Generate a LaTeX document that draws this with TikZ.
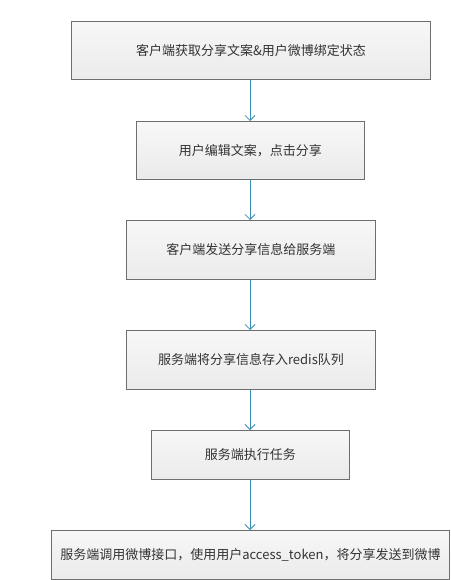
\documentclass[tikz,border=0pt]{standalone}
\usepackage{fontspec}
\setmainfont{Noto Sans CJK SC}
\usetikzlibrary{arrows.meta}
\definecolor{linkblue}{HTML}{3A8DB2}
\definecolor{boxborder}{HTML}{6E6E6E}
\begin{document}
\begin{tikzpicture}[x=1pt,y=-1pt,
  stepbox/.style={draw=boxborder, line width=0.9pt, top color=gray!6, bottom color=gray!16,
    anchor=north west, inner sep=0pt, font=\fontsize{13}{15}\selectfont, text=black!80},
  flow/.style={draw=linkblue, line width=0.9pt, -{Straight Barb[length=5pt,width=10pt,line width=0.8pt]}}]
\useasboundingbox (0,0) rectangle (450,580);
\node[stepbox, minimum width=359pt, minimum height=58pt] (b1) at (71,21) {客户端获取分享文案\&用户微博绑定状态};
\node[stepbox, minimum width=228pt, minimum height=58pt] (b2) at (136,121) {用户编辑文案，点击分享};
\node[stepbox, minimum width=249pt, minimum height=59pt] (b3) at (126,220) {客户端发送分享信息给服务端};
\node[stepbox, minimum width=249pt, minimum height=59pt] (b4) at (126,330) {服务端将分享信息存入redis队列};
\node[stepbox, minimum width=198pt, minimum height=49pt] (b5) at (151,430) {服务端执行任务};
\node[stepbox, minimum width=398pt, minimum height=49pt] (b6) at (51,530) {服务端调用微博接口，使用用户access\_token，将分享发送到微博};
\draw[flow] (b1.south -| 250,0) -- (b2.north -| 250,0);
\draw[flow] (b2.south -| 250,0) -- (b3.north -| 250,0);
\draw[flow] (b3.south -| 250,0) -- (b4.north -| 250,0);
\draw[flow] (b4.south -| 250,0) -- (b5.north -| 250,0);
\draw[flow] (b5.south -| 250,0) -- (b6.north -| 250,0);
\end{tikzpicture}
\end{document}
